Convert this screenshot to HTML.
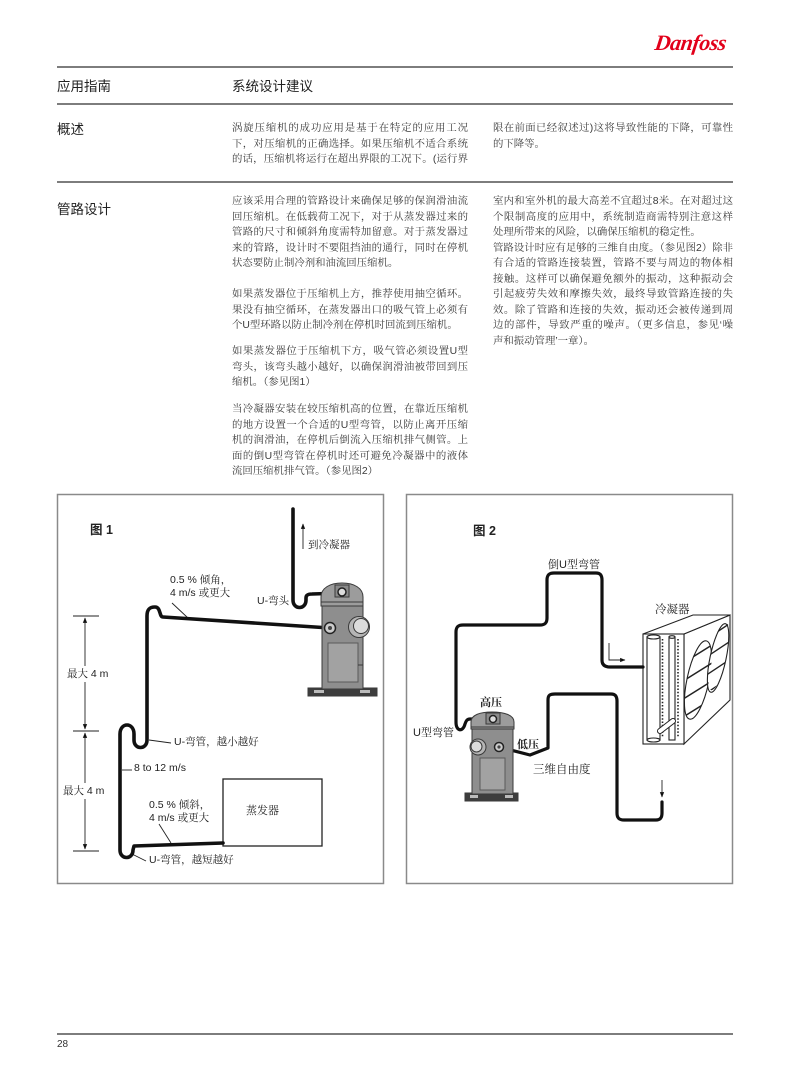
<!DOCTYPE html>
<html>
<head>
<meta charset="utf-8">
<style>
  html,body{margin:0;padding:0;background:#fff;}
  #pg{position:relative;width:790px;height:1072px;overflow:hidden;background:#fff;}
  .rule{position:absolute;left:57px;width:676px;height:1.5px;background:#7d7d7d;}
  .hd{position:absolute;font-family:"Liberation Sans","Noto Sans CJK SC",sans-serif;font-size:13.5px;line-height:20px;color:#222;white-space:nowrap;}
  .p{position:absolute;font-family:"Liberation Sans","Noto Serif CJK SC",serif;font-size:10.4px;line-height:15.5px;color:#3a3a3a;}
  .p div{height:15.5px;overflow:hidden;text-align:justify;text-align-last:justify;}
  .p div.l{text-align:left;text-align-last:left;}
  .c1{left:232px;width:236px;}
  .c2{left:493px;width:240px;}
</style>
</head>
<body>
<div id="pg">

<div style="position:absolute;left:655px;top:30px;font-family:'Liberation Serif',serif;font-style:italic;font-weight:bold;font-size:22px;color:#e2001a;transform:skewX(-8deg);letter-spacing:-0.5px;">Danfoss</div>

<div class="rule" style="top:66px;"></div>
<div class="hd" style="left:57px;top:77px;">应用指南</div>
<div class="hd" style="left:232px;top:77px;">系统设计建议</div>
<div class="rule" style="top:103px;"></div>

<div class="hd" style="left:57px;top:120px;">概述</div>
<div class="p c1" style="top:121px;">
  <div>涡旋压缩机的成功应用是基于在特定的应用工况</div>
  <div>下，对压缩机的正确选择。如果压缩机不适合系统</div>
  <div>的话，压缩机将运行在超出界限的工况下。(运行界</div>
</div>
<div class="p c2" style="top:121px;">
  <div>限在前面已经叙述过)这将导致性能的下降，可靠性</div>
  <div class="l">的下降等。</div>
</div>

<div class="rule" style="top:181px;"></div>

<div class="hd" style="left:57px;top:200px;">管路设计</div>
<div class="p c1" style="top:194px;">
  <div>应该采用合理的管路设计来确保足够的保润滑油流</div>
  <div>回压缩机。在低载荷工况下，对于从蒸发器过来的</div>
  <div>管路的尺寸和倾斜角度需特加留意。对于蒸发器过</div>
  <div>来的管路，设计时不要阻挡油的通行，同时在停机</div>
  <div class="l">状态要防止制冷剂和油流回压缩机。</div>
</div>
<div class="p c1" style="top:287px;">
  <div>如果蒸发器位于压缩机上方，推荐使用抽空循环。如</div>
  <div>果没有抽空循环，在蒸发器出口的吸气管上必须有一</div>
  <div class="l">个U型环路以防止制冷剂在停机时回流到压缩机。</div>
</div>
<div class="p c1" style="top:344px;">
  <div>如果蒸发器位于压缩机下方，吸气管必须设置U型</div>
  <div>弯头，该弯头越小越好，以确保润滑油被带回到压</div>
  <div class="l">缩机。（参见图1）</div>
</div>
<div class="p c1" style="top:402px;">
  <div>当冷凝器安装在较压缩机高的位置，在靠近压缩机</div>
  <div>的地方设置一个合适的U型弯管，以防止离开压缩</div>
  <div>机的润滑油，在停机后倒流入压缩机排气侧管。上</div>
  <div>面的倒U型弯管在停机时还可避免冷凝器中的液体</div>
  <div class="l">流回压缩机排气管。（参见图2）</div>
</div>
<div class="p c2" style="top:194px;">
  <div>室内和室外机的最大高差不宜超过8米。在对超过这</div>
  <div>个限制高度的应用中，系统制造商需特别注意这样</div>
  <div class="l">处理所带来的风险，以确保压缩机的稳定性。</div>
  <div>管路设计时应有足够的三维自由度。（参见图2）除非</div>
  <div>有合适的管路连接装置，管路不要与周边的物体相</div>
  <div>接触。这样可以确保避免额外的振动，这种振动会</div>
  <div>引起疲劳失效和摩擦失效，最终导致管路连接的失</div>
  <div>效。除了管路和连接的失效，振动还会被传递到周</div>
  <div>边的部件，导致严重的噪声。（更多信息，参见‘噪</div>
  <div class="l">声和振动管理’一章）。</div>
</div>

<div class="rule" style="top:1033px;"></div>
<div style="position:absolute;left:57px;top:1039px;font-family:'Liberation Sans',sans-serif;font-size:10px;color:#333;">28</div>

<svg width="790" height="1072" style="position:absolute;left:0;top:0;" xmlns="http://www.w3.org/2000/svg">
  <defs>
    <marker id="ah" viewBox="0 0 10 10" refX="9" refY="5" markerWidth="6" markerHeight="6" orient="auto-start-reverse">
      <path d="M0,1 L10,5 L0,9 Z" fill="#111"/>
    </marker>
    <clipPath id="fanA"><ellipse cx="698" cy="680" rx="11" ry="40" transform="rotate(12 698 680)"/></clipPath>
    <clipPath id="fanB"><ellipse cx="718.5" cy="656" rx="8" ry="35" transform="rotate(12 718.5 656)"/></clipPath>
  </defs>

  <!-- figure boxes -->
  <rect x="57.5" y="494.5" width="326" height="389" fill="none" stroke="#8a8a8a" stroke-width="1.5"/>
  <rect x="406.5" y="494.5" width="326" height="389" fill="none" stroke="#8a8a8a" stroke-width="1.5"/>

  <!-- evaporator -->
  <rect x="223" y="779" width="99" height="67" fill="#fff" stroke="#222" stroke-width="1.3"/>

  <!-- condenser -->
  <g stroke="#222" stroke-width="1.1" fill="#fff">
    <polygon points="684,634 730,615 730,700 684,744"/>
    <polygon points="643,634 684,634 730,615 693,615"/>
    <rect x="643" y="634" width="41" height="110"/>
    <rect x="647" y="637" width="13" height="103"/>
    <ellipse cx="653.5" cy="637" rx="6.5" ry="2"/>
    <ellipse cx="653.5" cy="740" rx="6.5" ry="2"/>
    <rect x="669" y="637" width="6" height="103"/>
    <ellipse cx="672" cy="637" rx="3" ry="1.3"/>
    <line x1="662.5" y1="639" x2="662.5" y2="738" stroke-dasharray="1.5 1.8" stroke-width="1.6"/>
    <line x1="678" y1="639" x2="678" y2="738" stroke-dasharray="1.5 1.8" stroke-width="1.6"/>
    <line x1="660" y1="731" x2="673" y2="721" stroke-width="6" stroke-linecap="round"/>
    <line x1="660" y1="731" x2="673" y2="721" stroke="#fff" stroke-width="4" stroke-linecap="round"/>
    <ellipse cx="698" cy="680" rx="11" ry="40" transform="rotate(12 698 680)"/>
    <ellipse cx="718.5" cy="658" rx="8" ry="35" transform="rotate(12 718.5 656)"/>
    <g clip-path="url(#fanA)" stroke-width="1.4">
      <line x1="680" y1="665" x2="720" y2="640"/>
      <line x1="680" y1="683" x2="720" y2="658"/>
      <line x1="680" y1="701" x2="720" y2="676"/>
      <line x1="680" y1="719" x2="720" y2="694"/>
    </g>
    <g clip-path="url(#fanB)" stroke-width="1.4">
      <line x1="705" y1="640" x2="735" y2="620"/>
      <line x1="705" y1="658" x2="735" y2="638"/>
      <line x1="705" y1="676" x2="735" y2="656"/>
      <line x1="705" y1="694" x2="735" y2="674"/>
    </g>
  </g>

  <g font-family="Liberation Sans, Noto Serif CJK SC, serif" font-size="10.5" fill="#222" dominant-baseline="central">
    <text x="90" y="530" font-size="12.5" font-weight="bold" font-family="Liberation Sans, Noto Sans CJK SC, sans-serif">图 1</text>
    <text x="308" y="545">到冷凝器</text>
    <text x="257" y="601">U-弯头</text>
    <text x="170" y="580">0.5 % 倾角，</text>
    <text x="170" y="593">4 m/s 或更大</text>
    <text x="67" y="674">最大 4 m</text>
    <text x="174" y="742">U-弯管，越小越好</text>
    <text x="134" y="768">8 to 12 m/s</text>
    <text x="63" y="791">最大 4 m</text>
    <text x="149" y="805">0.5 % 倾斜，</text>
    <text x="149" y="818">4 m/s 或更大</text>
    <text x="246" y="811" font-size="11">蒸发器</text>
    <text x="149" y="860">U-弯管，越短越好</text>

    <text x="473" y="531" font-size="12.5" font-weight="bold" font-family="Liberation Sans, Noto Sans CJK SC, sans-serif">图 2</text>
    <text x="548" y="565" font-size="11">倒U型弯管</text>
    <text x="655" y="610" font-size="11.5">冷凝器</text>
    <text x="480" y="703" font-size="11" font-weight="bold">高压</text>
    <text x="413" y="733" font-size="11">U型弯管</text>
    <text x="517" y="745" font-size="11" font-weight="bold">低压</text>
    <text x="533" y="770" font-size="11.5">三维自由度</text>
  </g>

  <g stroke="#222" stroke-width="0.9" fill="none">
    <line x1="73" y1="616" x2="99" y2="616"/>
    <line x1="73" y1="731" x2="99" y2="731"/>
    <line x1="73" y1="851" x2="99" y2="851"/>
    <line x1="85" y1="666" x2="85" y2="618" marker-end="url(#ah)"/>
    <line x1="85" y1="682" x2="85" y2="729" marker-end="url(#ah)"/>
    <line x1="85" y1="783" x2="85" y2="733" marker-end="url(#ah)"/>
    <line x1="85" y1="799" x2="85" y2="849" marker-end="url(#ah)"/>
    <line x1="303" y1="549" x2="303" y2="524" marker-end="url(#ah)"/>
    <line x1="172" y1="603" x2="188" y2="618"/>
    <line x1="149" y1="740" x2="171" y2="743"/>
    <line x1="122" y1="770" x2="132" y2="770"/>
    <line x1="159" y1="824" x2="171" y2="843"/>
    <line x1="132" y1="854" x2="146" y2="861"/>
    <polyline points="609,643 609,660 625,660" marker-end="url(#ah)"/>
    <line x1="662" y1="780" x2="662" y2="797" marker-end="url(#ah)"/>
  </g>

  <!-- FIG 1 pipes -->
  <g fill="none" stroke="#111" stroke-width="3.6" stroke-linecap="round" stroke-linejoin="round">
    <path d="M293,509 L293,600 C293,610 306,610 306,600 L306,598 C306,595 308,594 312,594 L342,593"/>
    <path d="M330,628 L163,617 C159,617 161,607 155,607 C149,607 147,610 147,616 L147,740 C147,750 134,750 134,740 L134,734 C134,722 120,722 120,734 L120,850 C120,860 133,860 133,850 L134,846 L223,843"/>
  </g>

  <!-- compressor 1 -->
  <g stroke="#3a3a3a" stroke-width="1">
    <rect x="308" y="688" width="69" height="8" fill="#3d3d3d"/>
    <rect x="314" y="690" width="10" height="3" fill="#bbb" stroke="none"/>
    <rect x="360" y="690" width="10" height="3" fill="#bbb" stroke="none"/>
    <rect x="322" y="603" width="41" height="86" fill="#8e8e8e"/>
    <path d="M321,606 L321,597 C321,588 330,583 342,583 C354,583 363,588 363,597 L363,606 Z" fill="#9c9c9c"/>
    <line x1="321" y1="602" x2="363" y2="602"/>
    <rect x="335" y="585" width="14" height="12" fill="#8a8a8a"/>
    <circle cx="342" cy="592" r="4" fill="#ddd" stroke="#222" stroke-width="1.5"/>
    <circle cx="330" cy="628" r="5.5" fill="#ccc" stroke="#222" stroke-width="1.5"/>
    <circle cx="330" cy="628" r="2" fill="#444" stroke="none"/>
    <circle cx="359" cy="627" r="10.5" fill="#b5b5b5"/>
    <circle cx="361" cy="626" r="7.5" fill="#dcdcdc"/>
    <rect x="328" y="643" width="30" height="39" fill="#a2a2a2" stroke="#5a5a5a"/>
    <line x1="358" y1="665" x2="363" y2="665"/>
  </g>

  <!-- FIG 2 pipes -->
  <g fill="none" stroke="#111" stroke-width="3.2" stroke-linecap="round" stroke-linejoin="round">
    <path d="M493,719 L470,719 C467,719 466,721 465,724 C463,732 456,732 456,722 L456,632 C456,627 458,625 463,625 L540,625 C545,625 547,623 547,618 L547,580 C547,575 549,573 554,573 L596,573 C600,573 602,575 602,580 L602,660 C602,665 605,667 610,667 L643,667"/>
    <path d="M499,747 L530,755 L548,748 L548,700 C548,695 550,694 555,694 L611,694 C615,694 617,696 617,701 L617,813 C617,818 619,820 624,820 L656,820 C660,820 662,818 662,813 L662,802"/>
  </g>

  <!-- compressor 2 -->
  <g stroke="#3a3a3a" stroke-width="1">
    <rect x="465" y="793" width="53" height="8" fill="#3d3d3d"/>
    <rect x="470" y="795" width="8" height="3" fill="#bbb" stroke="none"/>
    <rect x="505" y="795" width="8" height="3" fill="#bbb" stroke="none"/>
    <rect x="472" y="726" width="41" height="68" fill="#8e8e8e"/>
    <path d="M471,729 L471,722 C471,715 480,712 492,712 C504,712 514,715 514,722 L514,729 Z" fill="#9c9c9c"/>
    <line x1="471" y1="727" x2="514" y2="727"/>
    <rect x="486" y="713" width="14" height="11" fill="#8a8a8a"/>
    <circle cx="493" cy="719" r="3.5" fill="#ddd" stroke="#222" stroke-width="1.5"/>
    <circle cx="478" cy="747" r="8" fill="#b5b5b5"/>
    <circle cx="476.5" cy="746.5" r="5.5" fill="#dcdcdc"/>
    <circle cx="499" cy="747" r="4.5" fill="#ccc" stroke="#222" stroke-width="1.5"/>
    <circle cx="499" cy="747" r="1.6" fill="#444" stroke="none"/>
    <rect x="480" y="758" width="25" height="32" fill="#a2a2a2" stroke="#5a5a5a"/>
  </g>
</svg>

</div>
</body>
</html>
